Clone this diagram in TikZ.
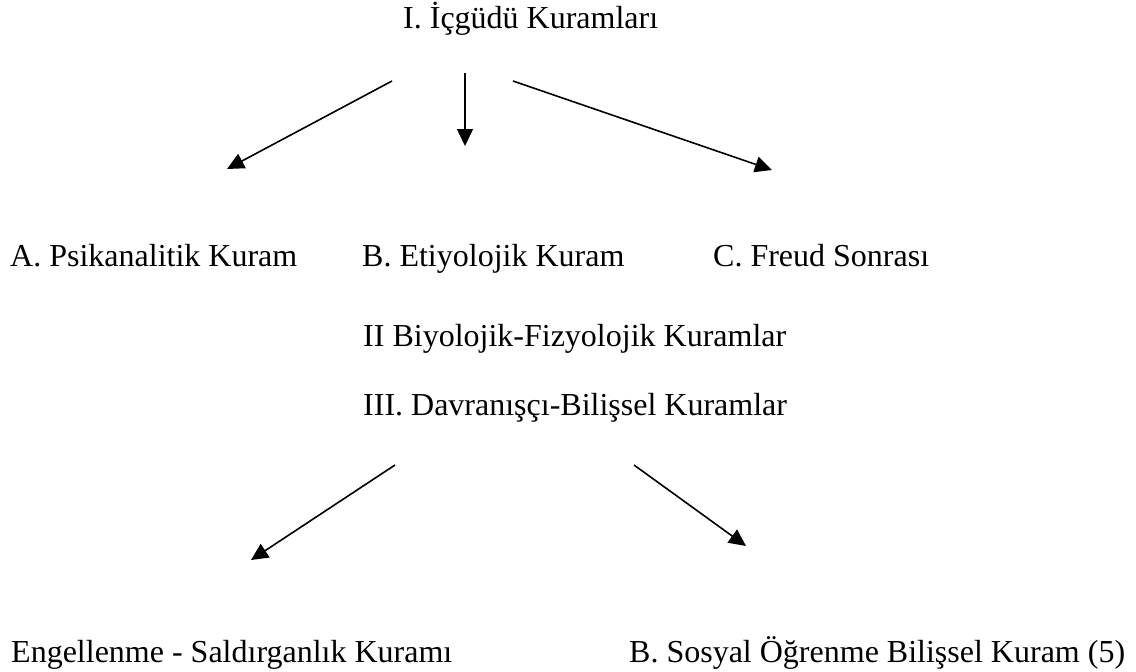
\documentclass[tikz,border=0pt]{standalone}
\usepackage{fontspec}
\setmainfont{Liberation Serif}
\usetikzlibrary{arrows.meta}
\begin{document}
\begin{tikzpicture}[x=1pt,y=-1pt,
  lbl/.style={anchor=base west, inner sep=0pt, font=\fontsize{32}{38}\selectfont},
  arr/.style={-{Triangle[length=17pt,width=16pt]}, line width=1.6pt}]
\useasboundingbox (0,0) rectangle (1136,672);
% texts
\node[lbl] (t1) at (403,28) {I. İçgüdü Kuramları};
\node[lbl] (ka) at (10,266) {A. Psikanalitik Kuram};
\node[lbl] (kb) at (362,266) {B. Etiyolojik Kuram};
\node[lbl] (kc) at (713,266) {C. Freud Sonrası};
\node[lbl] (t2) at (363,346) {II Biyolojik-Fizyolojik Kuramlar};
\node[lbl] (t3) at (363,415) {III. Davranışçı-Bilişsel Kuramlar};
\node[lbl] (ke) at (11,662) {Engellenme - Saldırganlık Kuramı};
\node[lbl] (ks) at (629,662) {B. Sosyal Öğrenme Bilişsel Kuram (5)};
% arrow end points
\coordinate (a1s) at (392,81);  \coordinate (a1e) at (227,169);
\coordinate (a2s) at (465,73);  \coordinate (a2e) at (465,146);
\coordinate (a3s) at (513,81);  \coordinate (a3e) at (772,170);
\coordinate (a4s) at (395,465); \coordinate (a4e) at (251,560);
\coordinate (a5s) at (634,465); \coordinate (a5e) at (746,546);
\draw[arr] (a1s) -- (a1e);
\draw[arr] (a2s) -- (a2e);
\draw[arr] (a3s) -- (a3e);
\draw[arr] (a4s) -- (a4e);
\draw[arr] (a5s) -- (a5e);
\end{tikzpicture}
\end{document}
